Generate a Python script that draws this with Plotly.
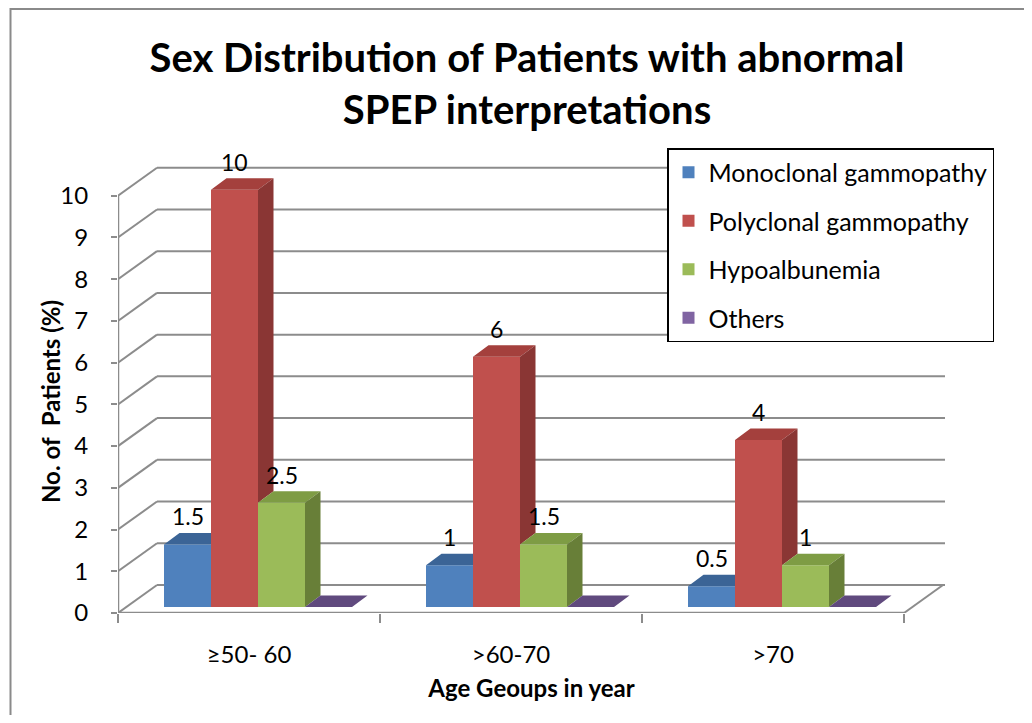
import plotly.graph_objects as go

# ---------------- data ----------------
categories = ["≥50- 60", ">60-70", ">70"]
series_names = ["Monoclonal gammopathy", "Polyclonal gammopathy", "Hypoalbunemia", "Others"]
monoclonal = [1.5, 1, 0.5]
polyclonal = [10, 6, 4]
hypoalbunemia = [2.5, 1.5, 1]
others = [0, 0, 0]
y_tick_values = [0, 1, 2, 3, 4, 5, 6, 7, 8, 9, 10]

series_values = [monoclonal, polyclonal, hypoalbunemia, others]
front_colors = ["#4F81BD", "#C0504D", "#9BBB59", "#8064A2"]
top_colors = ["#3B6496", "#A4403D", "#7E9C44", "#604A7E"]
side_colors = ["#345A87", "#8A3634", "#687F38", "#54406E"]

# ---------------- layout geometry ----------------
# the page body has an 8px default margin: size the figure to fit inside it
OFF = 8
W, H = 1032 - 2 * OFF, 723 - 2 * OFF
ML, MT = 118 - OFF, 154 - OFF
plot_w = 827
plot_h = 459
MR = W - ML - plot_w
MB = H - MT - plot_h
px_per_cat = 262.0
y_max = 11.0
px_per_val = plot_h / y_max
x_range = [-0.5, -0.5 + plot_w / px_per_cat]


def paper_x(page_px):
    return (page_px - OFF - ML) / plot_w


def paper_y(page_py):
    return (MT + plot_h - (page_py - OFF)) / plot_h


GAP0 = 46 / px_per_cat
BW = 47 / px_per_cat
BASE = 6 / px_per_val
BDX = 15.5 / px_per_cat
BDY = 11.5 / px_per_val
DX = 39 / px_per_cat
DY = 28 / px_per_val

FONT = "Lato"
grid_col = "#8C8C8C"

fig = go.Figure()

# front faces of the bars
for k, (name, vals) in enumerate(zip(series_names, series_values)):
    xs = [i - 0.5 + GAP0 + k * BW + BW / 2 for i in range(len(categories))]
    fig.add_trace(go.Bar(
        x=xs, y=vals, base=BASE, width=BW, name=name,
        marker=dict(color=front_colors[k], line=dict(width=0)),
        legendgroup=name, hoverinfo="name+y",
    ))

# 3D top / side faces (computed from data)
for k, vals in enumerate(series_values):
    tx, ty, sx, sy = [], [], [], []
    for i, v in enumerate(vals):
        L = i - 0.5 + GAP0 + k * BW
        R = L + BW
        top = BASE + v
        nxt = BASE + series_values[k + 1][i] if k + 1 < len(series_values) else None
        if nxt is not None and nxt >= top + BDY:
            tx += [L, R, R, L + BDX, L, None]
            ty += [top, top, top + BDY, top + BDY, top, None]
        else:
            tx += [L, R, R + BDX, L + BDX, L, None]
            ty += [top, top, top + BDY, top + BDY, top, None]
        if v > 0 and (nxt is None or nxt < top):
            lo = nxt if nxt is not None else BASE
            sx += [R, R + BDX, R + BDX, R, R, None]
            sy += [lo, lo + BDY, top + BDY, top, lo, None]
    fig.add_trace(go.Scatter(x=tx, y=ty, mode="lines", fill="toself",
                             fillcolor=top_colors[k], line=dict(width=0),
                             showlegend=False, hoverinfo="skip"))
    if sx:
        fig.add_trace(go.Scatter(x=sx, y=sy, mode="lines", fill="toself",
                                 fillcolor=side_colors[k], line=dict(width=0),
                                 showlegend=False, hoverinfo="skip"))

# value labels
annotations = []
for k, vals in enumerate(series_values):
    for i, v in enumerate(vals):
        if v == 0:
            continue
        L = i - 0.5 + GAP0 + k * BW
        annotations.append(dict(
            x=L + BW / 2, y=BASE + v, xref="x", yref="y", text=f"{v:g}",
            showarrow=False, yshift=28, yanchor="middle",
            font=dict(family=FONT, size=23, color="black")))

# y-axis title
annotations.append(dict(
    x=paper_x(50), y=paper_y(402), xref="paper", yref="paper",
    text="<b>No. of  Patients (%)</b>", textangle=-90, showarrow=False,
    xanchor="center", yanchor="middle", font=dict(family=FONT, size=24, color="black")))

# walls, grid, floor
shapes = []
for v in y_tick_values:
    shapes.append(dict(type="line", xref="x", yref="y", x0=-0.5, y0=v,
                       x1=-0.5 + DX, y1=v + DY, line=dict(color=grid_col, width=2), layer="below"))
    shapes.append(dict(type="line", xref="x", yref="y", x0=-0.5 + DX, y0=v + DY,
                       x1=x_range[1], y1=v + DY, line=dict(color=grid_col, width=2), layer="below"))
n = len(categories)
shapes.append(dict(type="line", xref="x", yref="y", x0=n - 0.5, y0=0,
                   x1=n - 0.5 + DX, y1=DY, line=dict(color=grid_col, width=2), layer="below"))
shapes.append(dict(type="line", xref="x", yref="y", x0=-0.5, y0=0,
                   x1=n - 0.5, y1=0, line=dict(color=grid_col, width=2.5), layer="below"))
shapes.append(dict(type="line", xref="x", yref="y", x0=-0.5, y0=0,
                   x1=-0.5, y1=max(y_tick_values), line=dict(color=grid_col, width=2.5), layer="below"))
# outer chart border (extends past the right / bottom of the image)
shapes.append(dict(type="rect", xref="paper", yref="paper",
                   x0=paper_x(10.5), y0=paper_y(760),
                   x1=paper_x(1060), y1=paper_y(9),
                   line=dict(color="#8A8A8A", width=2), layer="below"))

fig.update_layout(
    width=W, height=H,
    margin=dict(l=ML, r=MR, t=MT, b=MB, autoexpand=False),
    paper_bgcolor="white", plot_bgcolor="rgba(0,0,0,0)",
    barmode="overlay",
    title=dict(text="Sex Distribution of Patients with abnormal<br>SPEP interpretations",
               x=paper_x(527), xref="paper", xanchor="center",
               y=1 - 64 / H, yref="container", yanchor="top", automargin=False,
               font=dict(family=FONT, size=40, color="black", weight="bold")),
    font=dict(family=FONT, color="black"),
    legend=dict(x=paper_x(667), y=paper_y(148),
                xanchor="left", yanchor="top", bgcolor="white",
                bordercolor="black", borderwidth=1.5,
                font=dict(family=FONT, size=25, color="black"),
                tracegroupgap=13, traceorder="grouped"),
    xaxis=dict(range=x_range, tickmode="array", tickvals=list(range(n)), ticktext=categories,
               showgrid=False, zeroline=False, showline=False, ticks="", automargin=False,
               ticklabelstandoff=25, tickfont=dict(family=FONT, size=24),
               title=dict(text="<b>Age Geoups in year</b>", standoff=13,
                          font=dict(family=FONT, size=24))),
    xaxis2=dict(range=x_range, overlaying="x", anchor="y", side="bottom", automargin=False,
                tickmode="array", tickvals=[i - 0.5 for i in range(n + 1)],
                showticklabels=False, ticks="outside", ticklen=9, tickwidth=2,
                tickcolor=grid_col, showgrid=False, zeroline=False, showline=False),
    yaxis=dict(range=[0, y_max], tickmode="array", tickvals=y_tick_values,
               showgrid=False, zeroline=False, showline=False, automargin=False,
               ticks="outside", ticklen=6, tickwidth=2, tickcolor=grid_col,
               ticklabelstandoff=18, tickfont=dict(family=FONT, size=24)),
    shapes=shapes, annotations=annotations,
)
# invisible helper trace so the boundary-tick axis (xaxis2) is drawn
fig.add_trace(go.Scatter(x=[x_range[0]], y=[0], xaxis="x2", mode="markers",
                         marker=dict(opacity=0), showlegend=False, hoverinfo="skip"))

fig.write_html("out.html")
